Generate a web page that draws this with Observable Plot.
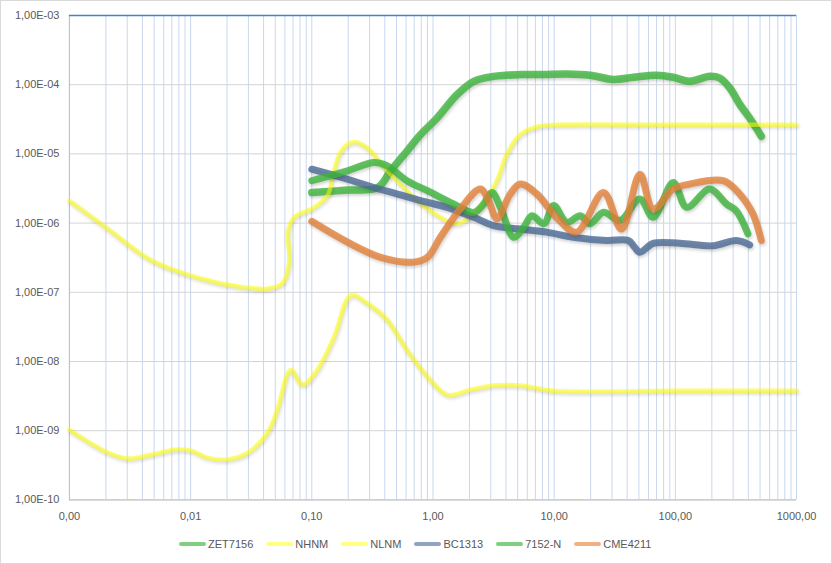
<!DOCTYPE html>
<html>
<head>
<meta charset="utf-8">
<script src="https://cdn.jsdelivr.net/npm/d3@7"></script>
<script src="https://cdn.jsdelivr.net/npm/@observablehq/plot@0.6"></script>
<style>
  html, body { margin: 0; padding: 0; background: #fff; }
  #frame { position: relative; width: 830px; height: 562px; border: 1px solid #d9d9d9; overflow: hidden; background: #fff; font-family: "Liberation Sans", Arial, sans-serif; }
  #chart { position: absolute; left: -1px; top: -1px; }
  #chart g.series path { filter: drop-shadow(1px 2px 1.5px rgba(0,0,0,0.22)); }
  #legend { position: absolute; left: 178px; top: 537px; display: flex; align-items: center; font-size: 11px; color: #595959; }
  .item { display: flex; align-items: center; margin-right: 13px; }
  .sw { width: 27px; height: 4px; border-radius: 2px; margin-right: 2px; }
</style>
</head>
<body>
<div id="frame"><div id="chart"></div><div id="legend"></div></div>
<script>
// ---- data ----
const seriesNames = ["ZET7156", "NHNM", "NLNM", "BC1313", "7152-N", "CME4211"];

const zetFreq = [0.1, 0.197, 0.35, 0.447, 0.61, 0.79, 1.08, 1.58, 2.17, 3.16, 5.25, 8, 12.7, 19.8, 30.8, 45, 70, 96, 131, 192, 232, 281, 340, 410, 512];
const zetVal  = [2.77e-6, 3.0e-6, 3.27e-6, 5.7e-6, 1.1e-5, 1.9e-5, 3.3e-5, 7.2e-5, 1.12e-4, 1.32e-4, 1.4e-4, 1.4e-4, 1.43e-4, 1.37e-4, 1.19e-4, 1.28e-4, 1.37e-4, 1.28e-4, 1.12e-4, 1.32e-4, 1.25e-4, 9e-5, 5.2e-5, 3.3e-5, 1.8e-5];

const nhnmFreq = [0.001, 0.00208, 0.00473, 0.0122, 0.026, 0.043, 0.057, 0.065, 0.064, 0.0715, 0.105, 0.135, 0.15, 0.175, 0.22, 0.28, 0.42, 0.695, 1.15, 1.58, 2.46, 3.37, 4.07, 5.25, 7.67, 11.2, 100, 1000];
const nhnmVal  = [2.1e-6, 8.2e-7, 2.9e-7, 1.57e-7, 1.19e-7, 1.13e-7, 1.33e-7, 2.6e-7, 7.8e-7, 1.21e-6, 1.69e-6, 2.5e-6, 5e-6, 1.1e-5, 1.48e-5, 1.25e-5, 5.7e-6, 2.35e-6, 1.21e-6, 9.8e-7, 1.69e-6, 4.1e-6, 9.9e-6, 1.9e-5, 2.53e-5, 2.63e-5, 2.63e-5, 2.63e-5];

const nlnmFreq = [0.001, 0.00208, 0.00304, 0.00473, 0.00736, 0.01, 0.01387, 0.0202, 0.0296, 0.043, 0.052, 0.067, 0.0838, 0.111, 0.153, 0.21, 0.287, 0.42, 0.61, 0.9, 1.31, 2.04, 3.16, 5.25, 9.9, 100, 1000];
const nlnmVal  = [1.03e-9, 4.8e-10, 3.95e-10, 4.5e-10, 5.3e-10, 5.15e-10, 4.05e-10, 3.83e-10, 4.8e-10, 9.3e-10, 2e-9, 7.55e-9, 4.6e-9, 7.55e-9, 2.28e-8, 9.05e-8, 6.9e-8, 3.95e-8, 1.46e-8, 6e-9, 3.3e-9, 3.9e-9, 4.5e-9, 4.5e-9, 3.77e-9, 3.77e-9, 3.77e-9];

const bcFreq = [0.1, 0.197, 0.326, 0.51, 0.79, 1.31, 2.17, 3.16, 5.25, 8.7, 14.4, 27, 41, 46, 51, 65.6, 109, 205, 318, 410];
const bcVal  = [6e-6, 4.3e-6, 3.27e-6, 2.63e-6, 2.11e-6, 1.69e-6, 1.21e-6, 9.2e-7, 8.2e-7, 7.4e-7, 6.25e-7, 5.6e-7, 5.6e-7, 4.5e-7, 3.8e-7, 5.1e-7, 5.1e-7, 4.7e-7, 5.6e-7, 4.85e-7];

const n7152Freq = [0.1, 0.197, 0.326, 0.42, 0.61, 0.9, 1.48, 2.17, 2.62, 3.07, 3.6, 4.63, 5.6, 6.55, 8.2, 9.9, 12.7, 16.4, 19.8, 25.5, 34.9, 51, 65.6, 96, 124, 192, 264, 318, 397];
const n7152Val  = [4.1e-6, 5.7e-6, 7.5e-6, 6.7e-6, 4.1e-6, 2.94e-6, 1.89e-6, 1.43e-6, 1.89e-6, 2.77e-6, 1.69e-6, 6.25e-7, 8.7e-7, 1.28e-6, 9.8e-7, 1.79e-6, 1.03e-6, 1.28e-6, 9.8e-7, 1.43e-6, 1.09e-6, 2.23e-6, 1.21e-6, 3.87e-6, 1.69e-6, 3.1e-6, 1.89e-6, 1.51e-6, 7e-7];

const cmeFreq = [0.1, 0.197, 0.37, 0.695, 0.9, 1.15, 1.68, 2.46, 2.88, 3.37, 4.34, 5.25, 7.2, 10.5, 15.3, 25.5, 36, 51, 65.6, 96, 131, 248, 340, 437, 512];
const cmeVal  = [1.06e-6, 5.3e-7, 3.2e-7, 2.73e-7, 3.2e-7, 6.25e-7, 1.6e-6, 3.1e-6, 2.11e-6, 1.15e-6, 2.63e-6, 3.66e-6, 2.63e-6, 1.2e-6, 7.4e-7, 2.77e-6, 8.2e-7, 5.1e-6, 1.6e-6, 3.1e-6, 3.66e-6, 4.1e-6, 2.63e-6, 1.35e-6, 5.6e-7];

const xTicks = [0.001, 0.01, 0.1, 1, 10, 100, 1000];
const xTickLabels = ["0,00", "0,01", "0,10", "1,00", "10,00", "100,00", "1000,00"];
const yTicks = [1e-10, 1e-9, 1e-8, 1e-7, 1e-6, 1e-5, 1e-4, 1e-3];
const yTickLabels = ["1,00E-10", "1,00E-09", "1,00E-08", "1,00E-07", "1,00E-06", "1,00E-05", "1,00E-04", "1,00E-03"];

// ---- styles ----
const style = {
  "ZET7156": {stroke: "#3cb43c", opacity: 0.8, width: 7.5, legend: "#80d080"},
  "NHNM":    {stroke: "#ffff00", opacity: 0.55, width: 4.5, legend: "#ffff80"},
  "NLNM":    {stroke: "#ffff00", opacity: 0.55, width: 4.5, legend: "#ffff80"},
  "BC1313":  {stroke: "#4b6a95", opacity: 0.8, width: 7, legend: "#8fa3c2"},
  "7152-N":  {stroke: "#3cb43c", opacity: 0.8, width: 7, legend: "#80d080"},
  "CME4211": {stroke: "#e28138", opacity: 0.8, width: 7, legend: "#f2b084"}
};

const table = (f, v) => f.map((x, i) => ({f: x, v: v[i]}));
const seriesData = {
  "ZET7156": table(zetFreq, zetVal),
  "NHNM": table(nhnmFreq, nhnmVal),
  "NLNM": table(nlnmFreq, nlnmVal),
  "BC1313": table(bcFreq, bcVal),
  "7152-N": table(n7152Freq, n7152Val),
  "CME4211": table(cmeFreq, cmeVal)
};

// minor vertical gridlines (1..9 per decade)
const xMinor = [];
for (let d = -3; d < 3; d++) for (let m = 1; m < 10; m++) xMinor.push(+(m * Math.pow(10, d)).toPrecision(3));
xMinor.push(1000);

const lineMarks = seriesNames.map(name => Plot.line(seriesData[name], {
  x: "f", y: "v", curve: "catmull-rom",
  stroke: style[name].stroke, strokeOpacity: style[name].opacity,
  strokeWidth: style[name].width, strokeLinecap: "round", strokeLinejoin: "round"
}));

const xLab = new Map(xTicks.map((t, i) => [t, xTickLabels[i]]));
const yLab = new Map(yTicks.map((t, i) => [t, yTickLabels[i]]));

const plot = Plot.plot({
  width: 832,
  height: 532,
  marginLeft: 69,
  marginRight: 35,
  marginTop: 15,
  marginBottom: 32,
  style: {fontFamily: "Liberation Sans, Arial, sans-serif", fontSize: "11px", color: "#595959", background: "transparent"},
  x: {type: "log", domain: [0.001, 1000]},
  y: {type: "log", domain: [1e-10, 1e-3]},
  marks: [
    Plot.ruleX(xMinor, {stroke: "#c9d8ee", strokeWidth: 1}),
    Plot.ruleY(yTicks, {stroke: "#d4d4d4", strokeWidth: 1}),
    Plot.ruleX([0.001], {stroke: "#bfbfbf", strokeWidth: 1}),
    Plot.ruleY([1e-10], {stroke: "#bfbfbf", strokeWidth: 1}),
    Plot.ruleY([1e-3], {stroke: "#4a7fcb", strokeWidth: 1.3}),
    Plot.axisX({ticks: xTicks, tickFormat: d => xLab.get(d), tickSize: 0, tickPadding: 12, label: null, fill: "#595959"}),
    Plot.axisY({ticks: yTicks, tickFormat: d => yLab.get(d), tickSize: 0, tickPadding: 10, label: null, fill: "#595959"}),
    ...lineMarks
  ]
});
// tag line groups for shadow styling
plot.querySelectorAll('g[aria-label="line"]').forEach(g => g.classList.add("series"));
document.getElementById("chart").appendChild(plot);

// legend
const legend = document.getElementById("legend");
seriesNames.forEach(name => {
  const it = document.createElement("div");
  it.className = "item";
  const sw = document.createElement("div");
  sw.className = "sw";
  sw.style.background = style[name].legend;
  const tx = document.createElement("span");
  tx.textContent = name;
  it.appendChild(sw); it.appendChild(tx);
  legend.appendChild(it);
});
</script>
</body>
</html>
